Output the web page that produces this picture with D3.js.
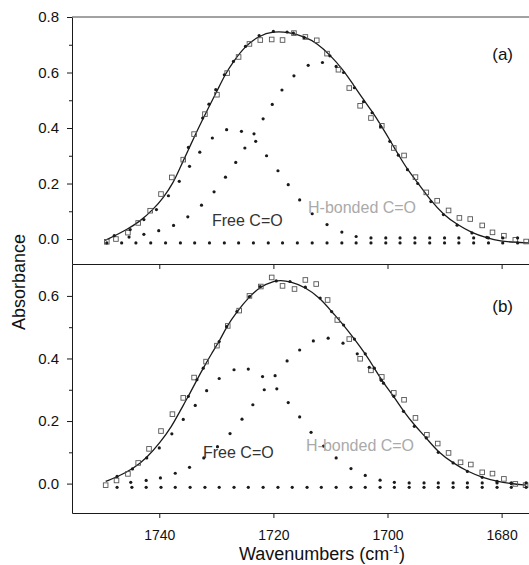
<!DOCTYPE html>
<html><head><meta charset="utf-8">
<script src="https://cdn.jsdelivr.net/npm/d3@7"></script>
<style>body{margin:0;background:#fff} svg{display:block} text{font-family:"Liberation Sans",Arial,sans-serif}</style>
</head><body><svg id="c" width="529" height="565"></svg>
<script>
// ---------- data ----------
const wnTicks = [1740, 1720, 1700, 1680];
const yTicksA = [0.0, 0.2, 0.4, 0.6, 0.8];
const yTicksB = [0.0, 0.2, 0.4, 0.6];
const yMinorA = [0.1, 0.3, 0.5, 0.7];
const yMinorB = [0.1, 0.3, 0.5];

// Panel (a)
const fitLineA = [[1749.5,-0.005],[1747.8,0.012],[1745.7,0.034],[1743.4,0.063],[1741.1,0.106],[1739.3,0.148],[1737.5,0.204],[1736.4,0.255],[1734.9,0.322],[1734.0,0.362],[1732.3,0.436],[1729.9,0.532],[1728.5,0.592],[1727.0,0.640],[1725.0,0.694],[1722.5,0.733],[1720.0,0.748],[1717.5,0.746],[1714.4,0.728],[1712.4,0.706],[1710.1,0.664],[1707.7,0.608],[1706.0,0.556],[1704.2,0.502],[1702.7,0.460],[1701.0,0.405],[1699.4,0.350],[1698.1,0.304],[1696.5,0.250],[1694.6,0.200],[1692.4,0.138],[1690.2,0.088],[1687.8,0.052],[1685.2,0.022],[1682.6,0.004],[1680.2,-0.008],[1677.6,-0.012],[1675.3,-0.014]];
const squaresA = [[1749.2,-0.010],[1747.6,0.000],[1745.5,0.023],[1743.7,0.058],[1741.6,0.102],[1739.7,0.162],[1737.8,0.222],[1735.8,0.286],[1733.9,0.378],[1732.0,0.450],[1729.9,0.520],[1728.1,0.598],[1726.1,0.656],[1724.2,0.703],[1722.3,0.717],[1720.3,0.719],[1718.4,0.717],[1716.4,0.742],[1714.4,0.728],[1712.4,0.716],[1710.6,0.668],[1708.6,0.610],[1706.7,0.544],[1704.8,0.480],[1702.9,0.436],[1701.0,0.408],[1698.9,0.328],[1697.1,0.301],[1695.1,0.223],[1693.2,0.168],[1691.3,0.138],[1689.3,0.103],[1687.4,0.076],[1685.5,0.072],[1683.4,0.049],[1681.6,0.024],[1679.6,0.012],[1677.6,-0.003],[1675.7,-0.009]];
const fitDotsA = [[1734.9,0.330],[1732.4,0.436],[1731.3,0.486],[1730.1,0.538],[1728.6,0.592],[1727.0,0.640],[1724.9,0.694],[1722.5,0.733],[1720.0,0.748],[1717.6,0.746],[1716.5,0.742],[1714.6,0.726],[1710.1,0.660]];
const freeA = [[1747.9,0.012],[1745.1,0.034],[1742.7,0.070],[1740.5,0.106],[1738.4,0.156],[1736.5,0.208],[1734.7,0.262],[1732.9,0.313],[1730.7,0.364],[1728.2,0.394],[1725.6,0.388],[1723.1,0.352],[1721.2,0.300],[1719.2,0.246],[1717.4,0.196],[1715.4,0.141],[1713.2,0.091],[1710.6,0.052],[1708.0,0.025],[1705.5,0.009],[1702.9,0.004],[1700.3,0.004],[1697.8,0.004],[1695.2,0.004],[1692.6,0.004],[1690.0,0.004],[1687.5,0.004],[1684.9,0.004],[1682.3,0.004],[1679.8,0.004],[1677.2,0.004]];
const hbondA = [[1745.3,0.007],[1742.7,0.017],[1740.1,0.030],[1737.5,0.049],[1735.0,0.080],[1732.6,0.122],[1730.4,0.170],[1728.4,0.223],[1726.6,0.276],[1725.0,0.328],[1723.4,0.379],[1721.8,0.433],[1720.2,0.485],[1718.5,0.537],[1716.4,0.588],[1713.9,0.626],[1711.4,0.636],[1709.0,0.622],[1707.7,0.600],[1705.8,0.545],[1704.2,0.495],[1702.7,0.455],[1701.2,0.405],[1699.6,0.352],[1698.1,0.302],[1696.5,0.250],[1694.7,0.200],[1692.4,0.135],[1690.2,0.088],[1687.8,0.050],[1685.2,0.022],[1682.6,0.006]];
const baseA = [[1749.2,-0.014],[1746.6,-0.014],[1744.1,-0.014],[1741.5,-0.014],[1738.9,-0.014],[1736.3,-0.014],[1733.8,-0.014],[1731.2,-0.014],[1728.6,-0.014],[1726.1,-0.014],[1723.5,-0.014],[1720.9,-0.014],[1718.4,-0.014],[1715.8,-0.014],[1713.2,-0.014],[1710.6,-0.014],[1708.0,-0.014],[1705.5,-0.014],[1702.9,-0.014],[1700.3,-0.014],[1697.8,-0.014],[1695.2,-0.014],[1692.6,-0.014],[1690.0,-0.014],[1687.5,-0.014],[1684.9,-0.014],[1682.3,-0.014],[1679.8,-0.014],[1677.2,-0.014]];

// Panel (b)
const fitLineB = [[1749.4,0.007],[1747.2,0.023],[1744.6,0.047],[1742.2,0.082],[1739.9,0.130],[1737.8,0.183],[1736.4,0.231],[1734.9,0.279],[1733.4,0.332],[1732.3,0.369],[1730.8,0.417],[1729.5,0.454],[1728.2,0.502],[1726.4,0.550],[1724.2,0.598],[1722.3,0.630],[1719.7,0.648],[1718.8,0.650],[1717.1,0.646],[1714.4,0.628],[1711.8,0.593],[1709.8,0.550],[1707.7,0.507],[1705.8,0.462],[1703.9,0.415],[1702.3,0.369],[1700.7,0.321],[1698.9,0.279],[1697.2,0.231],[1695.1,0.183],[1693.2,0.146],[1691.1,0.100],[1688.5,0.066],[1686.0,0.039],[1683.4,0.020],[1680.8,0.007],[1678.3,0.000],[1675.7,-0.005]];
const squaresB = [[1749.4,-0.005],[1747.5,0.010],[1745.5,0.031],[1743.7,0.066],[1741.8,0.111],[1739.7,0.168],[1737.7,0.222],[1735.8,0.274],[1733.9,0.339],[1731.8,0.390],[1729.9,0.441],[1728.0,0.504],[1726.0,0.553],[1724.2,0.600],[1722.2,0.630],[1720.3,0.659],[1718.4,0.632],[1716.3,0.622],[1714.4,0.651],[1712.5,0.638],[1710.5,0.587],[1708.8,0.523],[1706.7,0.462],[1704.8,0.399],[1702.9,0.362],[1701.0,0.341],[1698.9,0.290],[1697.1,0.268],[1695.1,0.210],[1693.1,0.156],[1691.2,0.128],[1689.3,0.098],[1687.2,0.068],[1685.4,0.061],[1683.4,0.036],[1681.6,0.032],[1679.6,0.015],[1677.6,-0.001],[1675.8,-0.005]];
const fitDotsB = [[1734.9,0.279],[1733.4,0.332],[1732.3,0.369],[1729.5,0.454],[1728.2,0.502],[1726.4,0.550],[1724.2,0.598],[1722.3,0.630],[1719.5,0.648],[1717.1,0.646],[1714.4,0.628],[1711.8,0.593],[1709.8,0.550],[1707.7,0.507],[1705.8,0.462],[1703.9,0.415],[1702.3,0.369],[1700.7,0.321]];
const freeB = [[1747.4,0.023],[1744.7,0.047],[1742.2,0.082],[1740.0,0.114],[1737.8,0.159],[1735.8,0.205],[1733.7,0.250],[1731.7,0.297],[1729.5,0.336],[1726.9,0.364],[1724.4,0.366],[1721.9,0.342],[1719.4,0.303],[1717.4,0.259],[1715.4,0.213],[1713.4,0.164],[1711.2,0.120],[1709.0,0.082],[1706.4,0.048],[1703.9,0.026],[1701.3,0.011],[1698.8,0.004],[1696.2,0.002],[1693.6,0.002],[1691.1,0.002],[1688.5,0.002],[1686.0,0.002],[1683.4,0.002],[1680.8,0.002],[1678.3,0.002],[1675.7,0.002]];
const hbondB = [[1745.0,0.004],[1742.3,0.010],[1739.8,0.018],[1737.2,0.033],[1734.7,0.052],[1732.2,0.082],[1729.8,0.118],[1727.6,0.160],[1725.5,0.206],[1723.6,0.252],[1721.6,0.300],[1719.7,0.345],[1717.6,0.392],[1715.4,0.427],[1713.0,0.456],[1710.4,0.465],[1707.8,0.449],[1705.3,0.415],[1703.2,0.372],[1701.1,0.330],[1698.9,0.279],[1697.2,0.231],[1695.3,0.183],[1693.2,0.146],[1691.1,0.100],[1688.5,0.066],[1686.0,0.039],[1683.4,0.020],[1680.8,0.007],[1678.3,0.000]];
const baseB = [[1747.4,-0.012],[1744.8,-0.012],[1742.3,-0.012],[1739.7,-0.012],[1737.2,-0.012],[1734.6,-0.012],[1732.0,-0.012],[1729.5,-0.012],[1726.9,-0.012],[1724.4,-0.012],[1721.8,-0.012],[1719.2,-0.012],[1716.7,-0.012],[1714.1,-0.012],[1711.6,-0.012],[1709.0,-0.012],[1706.4,-0.012],[1703.9,-0.012],[1701.3,-0.012],[1698.8,-0.012],[1696.2,-0.012],[1693.6,-0.012],[1691.1,-0.012],[1688.5,-0.012],[1686.0,-0.012],[1683.4,-0.012],[1680.8,-0.012],[1678.3,-0.012],[1675.7,-0.012]];

// ---------- chart ----------
const svg = d3.select("#c");
const x = d3.scaleLinear().domain([1755.3, 1675.2]).range([72, 529]);
const yA = d3.scaleLinear().domain([-0.09, 0.8]).range([264, 17]);
const yB = d3.scaleLinear().domain([-0.094, 0.702]).range([513, 264]);
const ink = "#1a1a1a";

function panel(y, fit, sq, fitDots, free, hb, base, ticks, minor, label, labelY) {
  const g = svg.append("g");
  const line = d3.line().x(d => x(d[0])).y(d => y(d[1])).curve(d3.curveBasis);
  g.append("path").datum(fit).attr("d", line).attr("fill", "none").attr("stroke", ink).attr("stroke-width", 1.3);
  g.selectAll("rect.sq").data(sq).enter().append("rect")
    .attr("x", d => x(d[0]) - 2.3).attr("y", d => y(d[1]) - 2.3)
    .attr("width", 4.6).attr("height", 4.6)
    .attr("fill", "none").attr("stroke", "#555").attr("stroke-width", 0.9);
  const dots = [].concat(fitDots, free, hb, base);
  g.selectAll("circle.d").data(dots).enter().append("circle")
    .attr("cx", d => x(d[0])).attr("cy", d => y(d[1])).attr("r", 1.6).attr("fill", ink);
  // y axis
  const ax = g.append("g").attr("transform", "translate(72,0)")
    .call(d3.axisLeft(y).tickValues(ticks).tickSize(5).tickSizeOuter(0).tickPadding(8).tickFormat(d3.format(".1f")));
  ax.select(".domain").attr("stroke", ink);
  ax.selectAll("line").attr("stroke", ink);
  ax.selectAll("text").attr("font-size", 15).attr("fill", "#111").style("font-family", '"Liberation Sans", Arial, sans-serif');
  const mn = g.append("g").attr("transform", "translate(72,0)")
    .call(d3.axisLeft(y).tickValues(minor).tickSize(3).tickFormat(""));
  mn.select(".domain").remove();
  mn.selectAll("line").attr("stroke", ink);
  g.append("text").attr("x", 513).attr("y", labelY).attr("text-anchor", "end")
    .attr("font-size", 17).attr("fill", "#111").text(label);
}

panel(yA, fitLineA, squaresA, fitDotsA, freeA, hbondA, baseA, yTicksA, yMinorA, "(a)", 60);
panel(yB, fitLineB, squaresB, fitDotsB, freeB, hbondB, baseB, yTicksB, yMinorB, "(b)", 312);

// top border
svg.append("line").attr("x1", 72).attr("x2", 529).attr("y1", 17).attr("y2", 17).attr("stroke", "#444");

// middle x axis (no labels)
const xm = svg.append("g").attr("transform", "translate(0,264)")
  .call(d3.axisBottom(x).tickValues(wnTicks).tickSize(5).tickSizeOuter(0).tickFormat(""));
xm.selectAll("path,line").attr("stroke", ink);

// bottom x axis
const xb = svg.append("g").attr("transform", "translate(0,513)")
  .call(d3.axisBottom(x).tickValues(wnTicks).tickSize(5).tickSizeOuter(0).tickPadding(12).tickFormat(d3.format("d")));
xb.selectAll("path,line").attr("stroke", ink);
xb.selectAll("text").attr("font-size", 14).attr("fill", "#111").style("font-family", '"Liberation Sans", Arial, sans-serif');

// component labels
svg.append("text").attr("x", 212).attr("y", 226).attr("font-size", 16).attr("fill", "#333").text("Free C=O");
svg.append("text").attr("x", 308).attr("y", 213).attr("font-size", 16).attr("fill", "#aaa").text("H-bonded C=O");
svg.append("text").attr("x", 203).attr("y", 458).attr("font-size", 16).attr("fill", "#333").text("Free C=O");
svg.append("text").attr("x", 306).attr("y", 451).attr("font-size", 16).attr("fill", "#aaa").text("H-bonded C=O");

// axis titles
svg.append("text").attr("transform", "translate(25,282) rotate(-90)").attr("text-anchor", "middle")
  .attr("font-size", 18).attr("fill", "#111").text("Absorbance");
const xt = svg.append("text").attr("x", 322).attr("y", 560).attr("text-anchor", "middle")
  .attr("font-size", 18).attr("fill", "#111");
xt.append("tspan").text("Wavenumbers (cm");
xt.append("tspan").attr("font-size", 11).attr("dy", -7).text("-1");
xt.append("tspan").attr("dy", 7).text(")");
</script></body></html>
